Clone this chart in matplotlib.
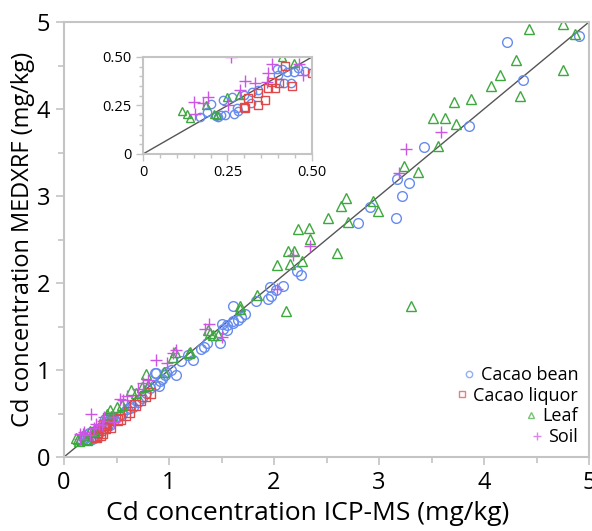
import matplotlib
matplotlib.use("Agg")
import matplotlib.pyplot as plt
import numpy as np
from matplotlib.ticker import MultipleLocator, FixedLocator

plt.rcParams['font.family'] = ['Open Sans', 'DejaVu Sans']

series_names = ["Cacao bean", "Cacao liquor", "Leaf", "Soil"]

bean_x = [0.169, 0.200, 0.188, 0.223, 0.243, 0.238, 0.262, 0.270, 0.277, 0.282, 0.299, 0.320, 0.322, 0.340,
          0.395, 0.400, 0.417, 0.438, 0.425, 0.447, 0.460, 0.479, 0.410, 0.230, 0.215,
          0.52, 0.55, 0.60, 0.63, 0.64, 0.66, 0.70, 0.74, 0.78, 0.82, 0.87, 0.90, 0.88, 0.91, 0.93, 0.96, 0.87,
          0.97, 1.07, 1.02,
          1.11, 1.18, 1.23, 1.30, 1.33, 1.36, 1.49, 1.51, 1.55, 1.50, 1.55, 1.61, 1.61, 1.66, 1.69, 1.72,
          1.61, 1.83, 1.94, 1.97, 1.96, 2.09, 2.02, 2.22, 2.26, 2.80, 2.91, 3.16, 3.22, 3.17, 3.29, 3.43,
          3.86, 4.37, 4.22, 4.90]
bean_y = [0.189, 0.256, 0.218, 0.192, 0.201, 0.278, 0.292, 0.206, 0.235, 0.220, 0.304, 0.261, 0.321, 0.330,
          0.437, 0.407, 0.364, 0.364, 0.424, 0.424, 0.442, 0.429, 0.440, 0.200, 0.195,
          0.47, 0.50, 0.55, 0.56, 0.60, 0.58, 0.63, 0.68, 0.74, 0.79, 0.83, 0.82, 0.97, 0.87, 0.90, 0.94, 0.96,
          0.98, 0.94, 1.00,
          1.10, 1.17, 1.12, 1.24, 1.27, 1.31, 1.31, 1.47, 1.46, 1.53, 1.52, 1.54, 1.56, 1.58, 1.61, 1.64,
          1.73, 1.79, 1.82, 1.85, 1.95, 1.96, 1.92, 2.14, 2.09, 2.69, 2.87, 2.75, 3.00, 3.20, 3.15, 3.56,
          3.80, 4.33, 4.77, 4.84]

liquor_x = [0.302, 0.312, 0.341, 0.371, 0.391, 0.381, 0.403, 0.420, 0.34, 0.44, 0.53, 0.58, 0.62,
            0.72, 0.77, 0.82, 0.68, 0.50, 0.36, 0.30]
liquor_y = [0.235, 0.287, 0.316, 0.339, 0.339, 0.373, 0.368, 0.454, 0.25, 0.35, 0.44, 0.48, 0.52,
            0.66, 0.70, 0.74, 0.60, 0.42, 0.28, 0.24]

leaf_x = [0.114, 0.129, 0.139, 0.186, 0.210, 0.220, 0.248, 0.285, 0.447, 0.41, 0.44, 0.50, 0.55, 0.64,
          0.69, 0.78, 0.74, 0.80, 0.95, 1.04, 1.06, 1.19, 1.20, 1.37, 1.39, 1.42, 1.47, 1.68, 1.68, 1.84,
          2.11, 2.03, 2.15, 2.27, 2.13, 2.19, 2.23, 2.33, 2.34, 2.60, 2.51, 2.70, 2.64, 2.69, 2.94, 2.99,
          3.30, 3.24, 3.37, 3.56, 3.51, 3.63, 3.73, 3.71, 3.88, 4.07, 4.15, 4.34, 4.30, 4.43, 4.75, 4.87, 4.75]
leaf_y = [0.223, 0.206, 0.187, 0.253, 0.206, 0.200, 0.295, 0.304, 0.471, 0.50, 0.54, 0.58, 0.60, 0.77,
          0.73, 0.95, 0.80, 0.83, 0.98, 1.15, 1.21, 1.19, 1.21, 1.46, 1.42, 1.40, 1.40, 1.70, 1.73, 1.86,
          1.68, 2.21, 2.22, 2.25, 2.37, 2.37, 2.62, 2.63, 2.51, 2.35, 2.75, 2.70, 2.89, 2.98, 2.94, 2.83,
          1.74, 3.34, 3.28, 3.58, 3.90, 3.90, 3.83, 4.08, 4.11, 4.26, 4.39, 4.15, 4.56, 4.92, 4.98, 4.86, 4.45]

soil_x = [0.154, 0.178, 0.193, 0.252, 0.287, 0.302, 0.331, 0.366, 0.371, 0.381, 0.462, 0.474, 0.26, 0.15,
          0.53, 0.56, 0.60, 0.70, 0.75, 0.80, 0.88, 0.98, 1.04, 1.07, 1.34, 1.38, 1.50, 2.03, 2.18, 2.34,
          3.19, 3.26, 3.59]
soil_y = [0.206, 0.261, 0.292, 0.253, 0.330, 0.378, 0.364, 0.373, 0.416, 0.464, 0.464, 0.407, 0.50, 0.27,
          0.67, 0.65, 0.70, 0.78, 0.85, 0.88, 1.11, 1.08, 1.19, 1.23, 1.47, 1.53, 1.38, 1.93, 2.32, 2.42,
          3.27, 3.54, 3.74]

main_ticks = [0, 1, 2, 3, 4, 5]
inset_ticks = [0, 0.25, 0.50]
inset_ticklabels = ["0", "0.25", "0.50"]

styles = [
    dict(marker='o', color='#668cf0'),
    dict(marker='s', color='#e0484a'),
    dict(marker='^', color='#3da83d'),
    dict(marker='+', color='#cc55e6'),
]
data = [(bean_x, bean_y), (liquor_x, liquor_y), (leaf_x, leaf_y), (soil_x, soil_y)]

fig = plt.figure(figsize=(5.92, 5.31), dpi=100)
ax = fig.add_axes([64/592, 1-457/531, 525/592, 435/531])
axin = fig.add_axes([143/592, 1-154/531, 169/592, 97/531])

frame_col = '#c4c4c4'
for a in (ax, axin):
    a.plot([0, 5], [0, 5], color='#555555', lw=1.0, zorder=1)

for (xs, ys), st, name in zip(data, styles, series_names):
    for a, ms in ((ax, 7), (axin, 6)):
        if st['marker'] == '+':
            a.plot(xs, ys, linestyle='none', marker='+', color=st['color'], ms=ms + 2, mew=1.0,
                   label=name if a is ax else None, zorder=2)
        else:
            a.plot(xs, ys, linestyle='none', marker=st['marker'], mfc='none', mec=st['color'],
                   ms=ms, mew=1.0, label=name if a is ax else None, zorder=2)

ax.set_xlim(0, 5)
ax.set_ylim(0, 5)
ax.xaxis.set_major_locator(FixedLocator(main_ticks))
ax.yaxis.set_major_locator(FixedLocator(main_ticks))
ax.xaxis.set_minor_locator(MultipleLocator(0.5))
ax.yaxis.set_minor_locator(MultipleLocator(0.5))
ax.tick_params(which='both', direction='out', color=frame_col, labelsize=17, width=1.2)
ax.tick_params(which='major', length=6, pad=4)
ax.tick_params(which='minor', length=4)
ax.set_xlabel("Cd concentration ICP-MS (mg/kg)", fontsize=19)
ax.set_ylabel("Cd concentration MEDXRF (mg/kg)", fontsize=17, labelpad=1)
ax.xaxis.set_label_coords(0.465, -0.1)
ax.xaxis.label.set_va('top')

axin.set_xlim(0, 0.5)
axin.set_ylim(0, 0.5)
axin.xaxis.set_major_locator(FixedLocator(inset_ticks))
axin.yaxis.set_major_locator(FixedLocator(inset_ticks))
axin.set_xticklabels(inset_ticklabels)
axin.set_yticklabels(inset_ticklabels)
axin.xaxis.set_minor_locator(MultipleLocator(0.05))
axin.yaxis.set_minor_locator(MultipleLocator(0.05))
axin.tick_params(which='both', direction='out', color=frame_col, labelsize=10.5, width=1.0)
axin.tick_params(which='major', length=5, pad=3)
axin.tick_params(which='minor', length=3)

for a in (ax, axin):
    for s in a.spines.values():
        s.set_color(frame_col)
        s.set_linewidth(1.5)

leg = ax.legend(loc='lower right', frameon=False, fontsize=13, markerscale=0.65,
                handlelength=0.6, handletextpad=0.35, labelspacing=0.15,
                borderaxespad=0.2, bbox_to_anchor=(1.0, 0.0))
try:
    leg._legend_handle_box.get_children()[0].align = 'right'
except Exception:
    pass
for h in leg.legend_handles:
    h.set_alpha(0.7)

fig.savefig("out.png", dpi=100)
